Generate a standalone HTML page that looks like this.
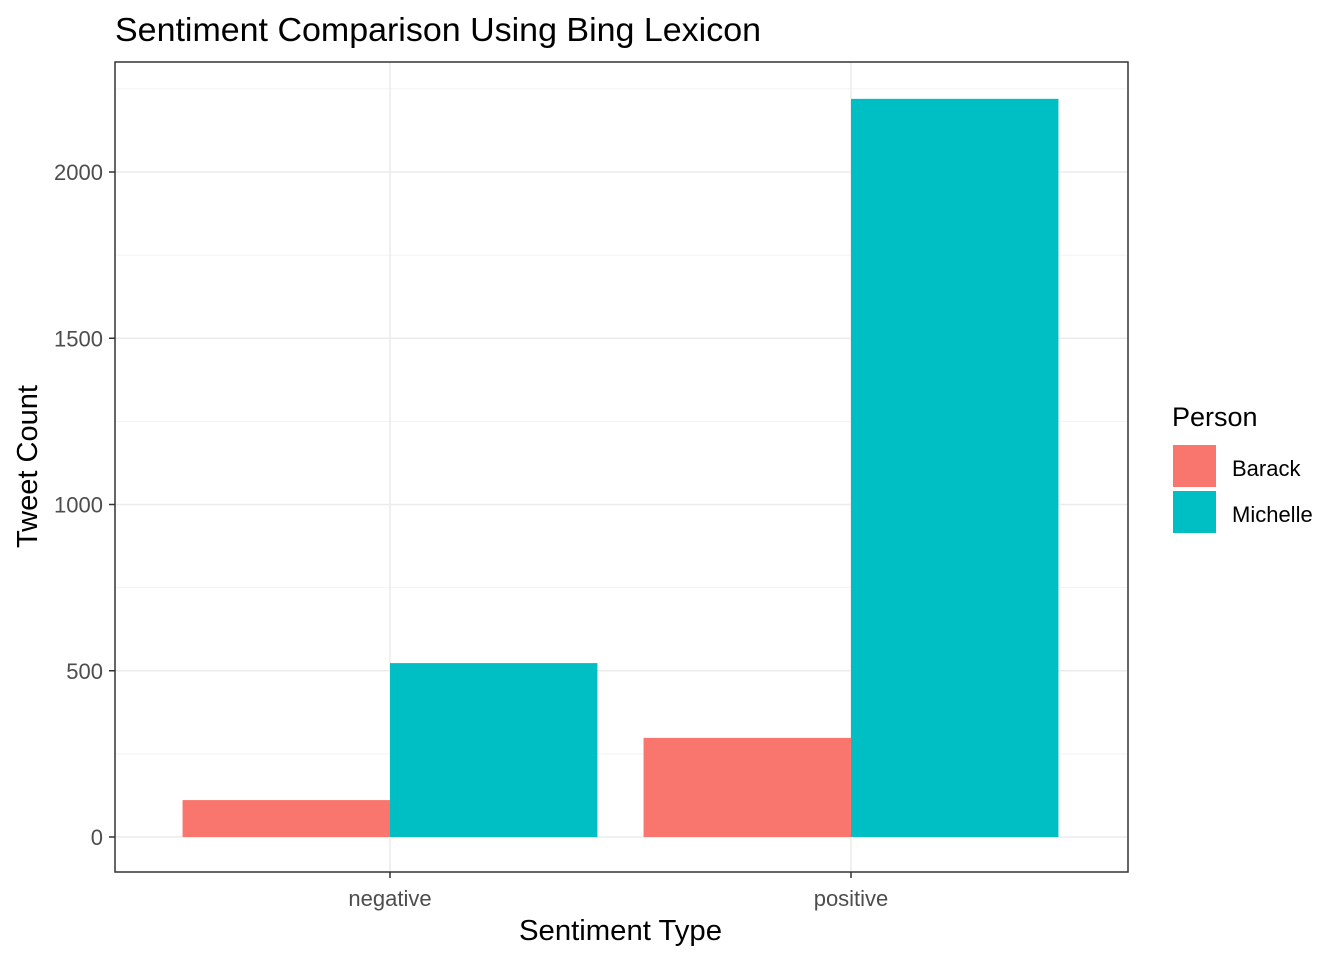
<!DOCTYPE html>
<html><head><meta charset="utf-8"><style>
body{margin:0;background:#fff;font-family:"Liberation Sans",Arial,sans-serif;}
</style></head><body>
<svg id="chart" width="1344" height="960" xmlns="http://www.w3.org/2000/svg">
<text x="115" y="41" font-size="33" textLength="646" lengthAdjust="spacingAndGlyphs" fill="#000">Sentiment Comparison Using Bing Lexicon</text>
<g id="grid"></g><g id="bars"></g><g id="axes"></g>
<text x="519" y="940" font-size="29" textLength="203" lengthAdjust="spacingAndGlyphs">Sentiment Type</text>
<text transform="translate(37,548) rotate(-90)" font-size="29" textLength="163" lengthAdjust="spacingAndGlyphs">Tweet Count</text>
<g>
<text x="1172" y="426" font-size="27">Person</text>
<rect x="1173" y="445" width="43" height="42" fill="#F8766D"/>
<text x="1232" y="476" font-size="22">Barack</text>
<rect x="1173" y="491" width="43" height="42" fill="#00BFC4"/>
<text x="1232" y="522" font-size="22">Michelle</text>
</g>
</svg>
<script>
const categories = ["negative","positive"];
const series = ["Barack","Michelle"];
const barackValues = [111, 298];
const michelleValues = [523, 2220];
const yTicks = [0,500,1000,1500,2000];
const yMinor = [250,750,1250,1750,2250];
const colors = ["#F8766D","#00BFC4"];
const NS="http://www.w3.org/2000/svg";
const L=115,R=1128,T=62,B=872;
const y0=837, pxPer=(837-172)/2000;
const yS=v=>y0-v*pxPer;
const catStep=461, cat0=390;
const xS=i=>cat0+i*catStep;
const barW=catStep*0.9/2;
function mk(tag,attrs,parent){const e=document.createElementNS(NS,tag);for(const k in attrs)e.setAttribute(k,attrs[k]);parent.appendChild(e);return e;}
const grid=document.getElementById('grid'),bars=document.getElementById('bars'),axes=document.getElementById('axes');
mk('rect',{x:L,y:T,width:R-L,height:B-T,fill:'#fff'},grid);
yMinor.forEach(v=>{const l=mk('line',{x1:L,x2:R,y1:yS(v),y2:yS(v),stroke:'#f2f2f2','stroke-width':1},grid);

});
yTicks.forEach(v=>{const l=mk('line',{x1:L,x2:R,y1:yS(v),y2:yS(v),stroke:'#ebebeb','stroke-width':1.5},grid);


const t=mk('line',{x1:L-6,x2:L,y1:yS(v),y2:yS(v),stroke:'#333','stroke-width':1.5},axes);
const tx=mk('text',{x:L-12,y:yS(v)+8,'font-size':22,fill:'#4d4d4d','text-anchor':'end'},axes);tx.textContent=v;

});
categories.forEach((c,i)=>{mk('line',{x1:xS(i),x2:xS(i),y1:T,y2:B,stroke:'#ebebeb','stroke-width':1.5},grid);
mk('line',{x1:xS(i),x2:xS(i),y1:B,y2:B+6,stroke:'#333','stroke-width':1.5},axes);
const tx=mk('text',{x:xS(i),y:B+34,'font-size':22,fill:'#4d4d4d','text-anchor':'middle'},axes);tx.textContent=c;

});
[barackValues,michelleValues].forEach((vals,s)=>{vals.forEach((v,i)=>{
const x=xS(i)-barW+s*barW;
const r=mk('rect',{x:x,y:yS(v),width:barW,height:yS(0)-yS(v),fill:colors[s]},bars);

});});
const fr=mk('rect',{x:L,y:T,width:R-L,height:B-T,fill:'none',stroke:'#333','stroke-width':1.5},axes);


</script>
</body></html>
